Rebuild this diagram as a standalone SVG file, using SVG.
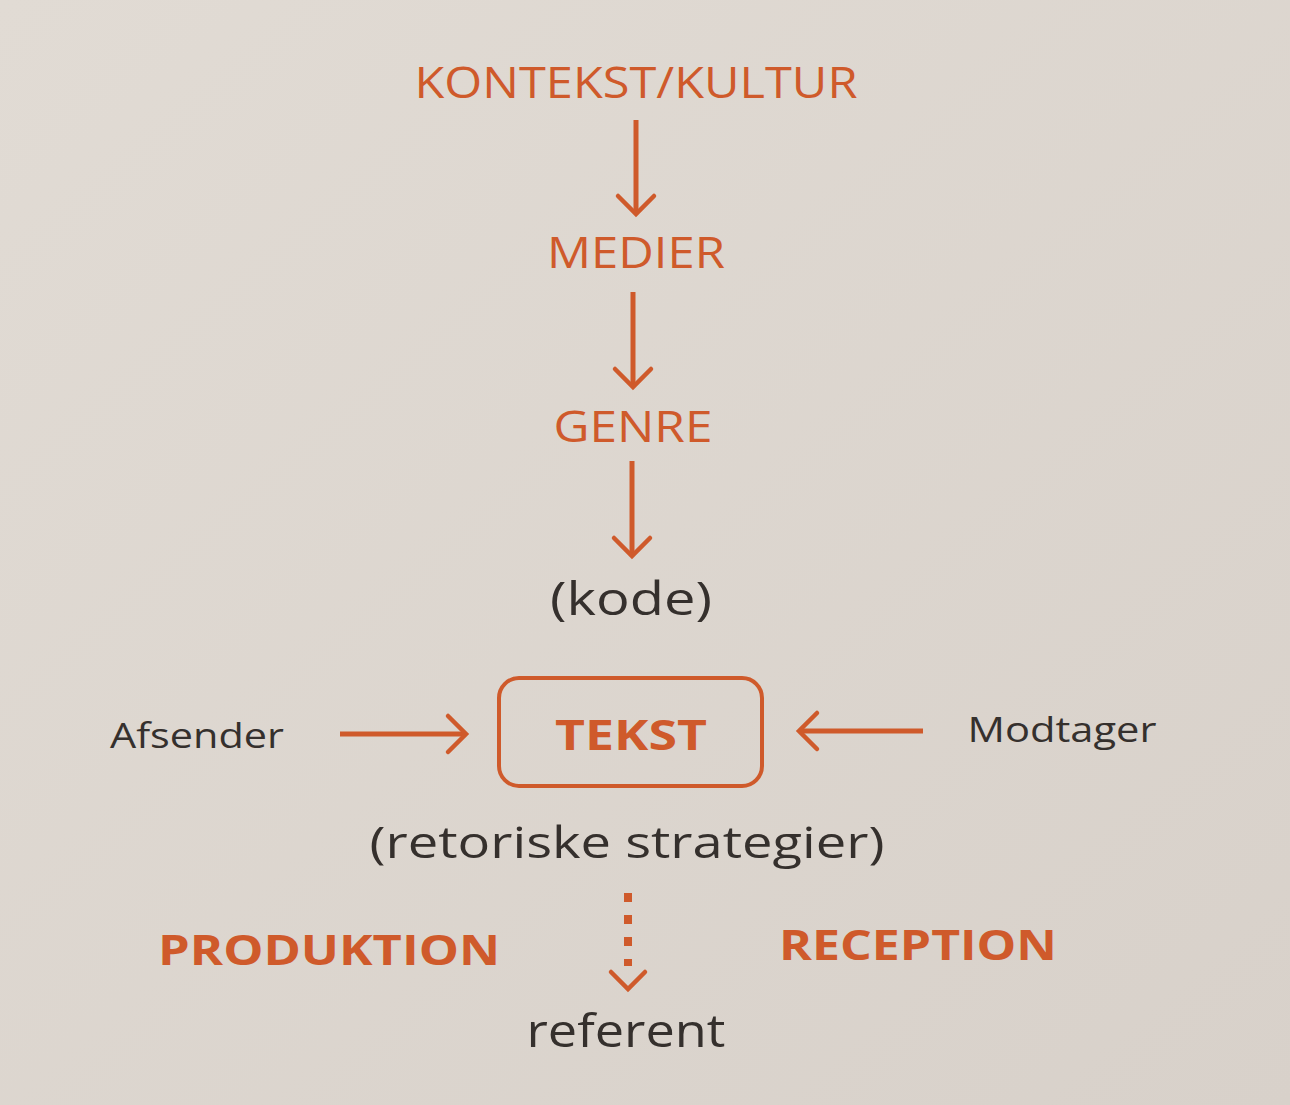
<svg xmlns="http://www.w3.org/2000/svg" width="1290" height="1105" viewBox="0 0 1290 1105">
<defs>
<style>
.o{fill:#cf5a2b;font-family:"Open Sans","DejaVu Sans",sans-serif;text-anchor:middle}
.d{fill:#35302d;font-family:"Open Sans","DejaVu Sans",sans-serif;text-anchor:middle}
.b{font-weight:bold}
.ln{stroke:#cf5a2b;stroke-width:5;fill:none}
.dot{stroke:#cf5a2b;stroke-width:8;fill:none;stroke-dasharray:9,13}
.hd{stroke:#cf5a2b;stroke-width:4.5;fill:none;stroke-linecap:round;stroke-linejoin:miter}
</style>
<linearGradient id="bg" x1="0" y1="0" x2="1" y2="1">
<stop offset="0" stop-color="#e1dbd4"/>
<stop offset="1" stop-color="#d8d1ca"/>
</linearGradient>
</defs>
<rect width="1290" height="1105" fill="url(#bg)"/>
<g id="kontekst"><text class="o" x="636" y="98" font-size="44" textLength="443" lengthAdjust="spacingAndGlyphs">KONTEKST/KULTUR</text></g>
<g id="medier"><text class="o" x="636" y="268" font-size="44" textLength="178" lengthAdjust="spacingAndGlyphs">MEDIER</text></g>
<g id="genre"><text class="o" x="633" y="442" font-size="44" textLength="159" lengthAdjust="spacingAndGlyphs">GENRE</text></g>
<g id="kode"><text class="d" x="631" y="615" font-size="46" textLength="162" lengthAdjust="spacingAndGlyphs">(kode)</text></g>
<g id="tekst">
<rect x="499" y="678" width="263" height="108" rx="20" fill="none" stroke="#cf5a2b" stroke-width="4"/>
<text class="o b" x="631" y="750" font-size="42" textLength="152" lengthAdjust="spacingAndGlyphs">TEKST</text>
</g>
<g id="afsender"><text class="d" x="197" y="748" font-size="34" textLength="174" lengthAdjust="spacingAndGlyphs">Afsender</text></g>
<g id="modtager"><text class="d" x="1062" y="742" font-size="34" textLength="189" lengthAdjust="spacingAndGlyphs">Modtager</text></g>
<g id="retoriske"><text class="d" x="627" y="858" font-size="44" textLength="515" lengthAdjust="spacingAndGlyphs">(retoriske strategier)</text></g>
<g id="produktion"><text class="o b" x="329" y="965" font-size="42" textLength="342" lengthAdjust="spacingAndGlyphs">PRODUKTION</text></g>
<g id="reception"><text class="o b" x="918" y="960" font-size="42" textLength="278" lengthAdjust="spacingAndGlyphs">RECEPTION</text></g>
<g id="referent"><text class="d" x="626" y="1047" font-size="46" textLength="199" lengthAdjust="spacingAndGlyphs">referent</text></g>
<g id="connectors">
<line class="ln" x1="636" y1="120" x2="636" y2="212"/>
<polyline class="hd" points="618,196 636,214 654,196"/>
<line class="ln" x1="633" y1="292" x2="633" y2="385"/>
<polyline class="hd" points="615,369 633,387 651,369"/>
<line class="ln" x1="632" y1="461" x2="632" y2="554"/>
<polyline class="hd" points="614,538 632,556 650,538"/>
<line class="ln" x1="340" y1="734" x2="464" y2="734"/>
<polyline class="hd" points="448,716 466,734 448,752"/>
<line class="ln" x1="800" y1="731" x2="923" y2="731"/>
<polyline class="hd" points="817,713 799,731 817,749"/>
<line class="dot" x1="628" y1="893" x2="628" y2="966"/>
<polyline class="hd" points="611,972 628,989 645,972"/>
</g>
</svg>
